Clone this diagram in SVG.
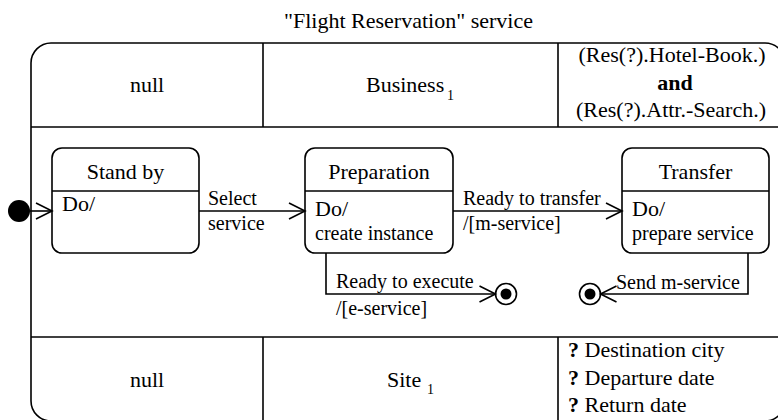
<svg xmlns="http://www.w3.org/2000/svg" width="778" height="420" viewBox="0 0 778 420">
<style>
.t22{font-size:22px}
.t20{font-size:20px}
.sm{font-size:14px}
.ln{fill:none;stroke:#000;stroke-width:1.6}
.mid{text-anchor:middle}
.b{font-weight:bold}
</style>
<defs>
<marker id="open" markerUnits="userSpaceOnUse" markerWidth="20" markerHeight="20" refX="16" refY="8" orient="auto" overflow="visible">
<path d="M0,0 L16,8 L0,16" fill="none" stroke="#000" stroke-width="1.6"/>
</marker>
</defs>
<rect width="778" height="420" fill="#fff"/>
<g font-family="Liberation Serif" fill="#000">
<text id="title" class="t22 mid" x="408.5" y="28">"Flight Reservation" service</text>
<g id="frame">
<rect class="ln" x="31" y="43" width="754" height="378" rx="20"/>
<line class="ln" x1="31" y1="127" x2="785" y2="127"/>
<line class="ln" x1="31" y1="337" x2="785" y2="337"/>
<line class="ln" x1="263" y1="43" x2="263" y2="127"/>
<line class="ln" x1="558" y1="43" x2="558" y2="127"/>
<line class="ln" x1="263" y1="337" x2="263" y2="421"/>
<line class="ln" x1="558" y1="337" x2="558" y2="421"/>
</g>
<g id="top-row">
<text class="t22 mid" x="147" y="92">null</text>
<text class="t22" x="366" y="92">Business</text>
<text class="sm" x="447" y="100">1</text>
<text class="t22 mid" x="672" y="62">(Res(?).Hotel-Book.)</text>
<text class="t22 mid b" x="675" y="90">and</text>
<text class="t22 mid" x="671" y="117">(Res(?).Attr.-Search.)</text>
</g>
<g id="bottom-row">
<text class="t22 mid" x="147" y="387">null</text>
<text class="t22" x="387" y="387">Site</text>
<text class="sm" x="427" y="394">1</text>
<text class="t22" x="568" y="357"><tspan class="b">?</tspan> Destination city</text>
<text class="t22" x="568" y="385"><tspan class="b">?</tspan> Departure date</text>
<text class="t22" x="568" y="412"><tspan class="b">?</tspan> Return date</text>
</g>
<g id="initial"><circle cx="19" cy="211" r="11" fill="#000"/></g>
<g id="standby">
<rect class="ln" x="52" y="148" width="147" height="105" rx="10"/>
<line class="ln" x1="52" y1="191" x2="199" y2="191"/>
<text class="t22 mid" x="125.5" y="179">Stand by</text>
<text class="t22" x="62" y="211">Do/</text>
</g>
<g id="preparation">
<rect class="ln" x="305" y="148" width="148" height="105" rx="10"/>
<line class="ln" x1="305" y1="191" x2="453" y2="191"/>
<text class="t22 mid" x="379" y="179">Preparation</text>
<text class="t22" x="315" y="216">Do/</text>
<text class="t20" x="315" y="240">create instance</text>
</g>
<g id="transfer">
<rect class="ln" x="622" y="148" width="147" height="105" rx="10"/>
<line class="ln" x1="622" y1="191" x2="769" y2="191"/>
<text class="t22 mid" x="695.5" y="179">Transfer</text>
<text class="t22" x="632" y="216">Do/</text>
<text class="t20" x="632" y="240">prepare service</text>
</g>
<g id="final1">
<circle class="ln" cx="506" cy="294" r="10.5"/>
<circle cx="506" cy="294" r="5.5" fill="#000"/>
</g>
<g id="final2">
<circle class="ln" cx="590" cy="294" r="10.5"/>
<circle cx="590" cy="294" r="5.5" fill="#000"/>
</g>
<g id="connectors">
<line class="ln" x1="30" y1="211" x2="52" y2="211" marker-end="url(#open)"/>
<line class="ln" x1="199" y1="211" x2="305" y2="211" marker-end="url(#open)"/>
<line class="ln" x1="453" y1="211" x2="622" y2="211" marker-end="url(#open)"/>
<polyline class="ln" points="326,253 326,294 495.5,294" marker-end="url(#open)"/>
<polyline class="ln" points="748,253 748,294 600.5,294" marker-end="url(#open)"/>
<text class="t20" x="208" y="205">Select</text>
<text class="t20" x="208" y="230">service</text>
<text class="t20" x="463" y="205">Ready to transfer</text>
<text class="t20" x="463" y="230">/[m-service]</text>
<text class="t20" x="336" y="288">Ready to execute</text>
<text class="t20" x="336" y="315">/[e-service]</text>
<text class="t20" x="616" y="289">Send m-service</text>
</g>
</g>
</svg>
